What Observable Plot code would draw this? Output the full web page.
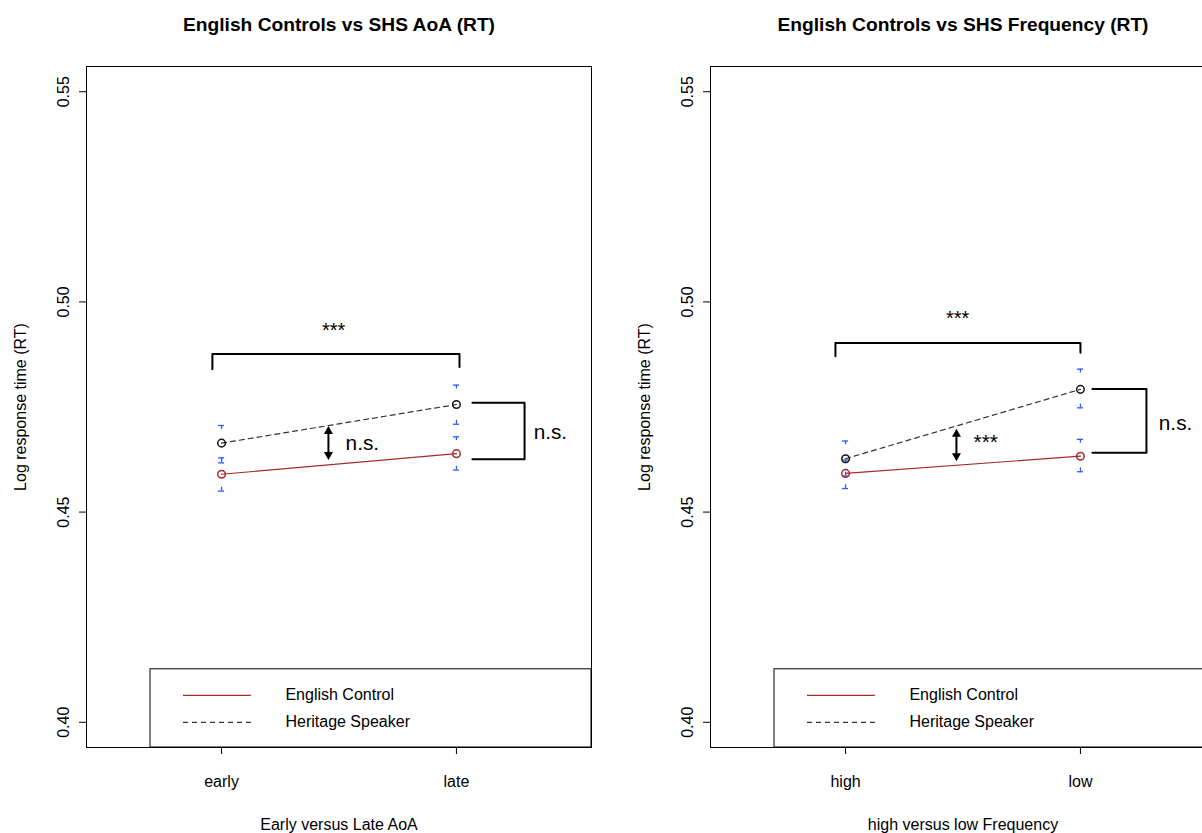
<!DOCTYPE html>
<html><head><meta charset="utf-8">
<script src="https://cdn.jsdelivr.net/npm/d3@7"></script>
<script src="https://cdn.jsdelivr.net/npm/@observablehq/plot@0.6"></script>
<style>
html,body{margin:0;padding:0;background:#fff;}
#wrap{width:1202px;height:833px;overflow:hidden;display:flex;}
#wrap > svg{flex:0 0 auto;max-width:none;}
</style></head><body><div id="wrap"></div>
<script>
// ---------- data ----------
const yTicks = [0.40, 0.45, 0.50, 0.55];
const seriesNames = ["English Control", "Heritage Speaker"];

// Panel 1: AoA
const aoaLevels = ["early", "late"];
const aoaEnglish = [0.4590, 0.4639];
const aoaEnglishLo = [0.4550, 0.4600];
const aoaEnglishHi = [0.4629, 0.4679];
const aoaHeritage = [0.4664, 0.4756];
const aoaHeritageLo = [0.4617, 0.4709];
const aoaHeritageHi = [0.4706, 0.4802];

// Panel 2: Frequency
const freqLevels = ["high", "low"];
const freqEnglish = [0.4592, 0.4633];
const freqEnglishLo = [0.4556, 0.4596];
const freqEnglishHi = [0.4624, 0.4673];
const freqHeritage = [0.4627, 0.4792];
const freqHeritageLo = [0.4586, 0.4748];
const freqHeritageHi = [0.4669, 0.4840];

// Significance annotations (data units)
const aoaTopBracket = {x1: 0.961, x2: 2.013, top: 0.4876, legL: 0.4840, legR: 0.4845, label: "***", lx: 1.477, ly: 0.4931};
const aoaSideBracket = {x1: 2.068, x2: 2.290, yA: 0.4760, yB: 0.4626, label: "n.s.", lx: 2.400, ly: 0.4690};
const aoaMidArrow = {x: 1.455, yA: 0.4705, yB: 0.4624, label: "n.s.", lx: 1.528, ly: 0.4664};

const freqTopBracket = {x1: 0.957, x2: 2.000, top: 0.4902, legL: 0.4871, legR: 0.4879, label: "***", lx: 1.477, ly: 0.4960};
const freqSideBracket = {x1: 2.051, x2: 2.281, yA: 0.4793, yB: 0.4641, label: "n.s.", lx: 2.405, ly: 0.4710};
const freqMidArrow = {x: 1.472, yA: 0.4698, yB: 0.4621, label: "***", lx: 1.545, ly: 0.4667};

// Legend box placement (data units)
const legendBox = {x1: 0.6975, x2: 2.575, y1: 0.394, y2: 0.4126, lineX1: 0.838, lineX2: 1.127, textX: 1.272, rows: [0.4064, 0.4000]};

// ---------- drawing ----------
const RED = "#a52a2a", DASH = "#333333", BLUE = "#2a5cff";
const FONT = "'Liberation Sans', Arial, Helvetica, sans-serif";

const upHead = {draw(ctx) { ctx.moveTo(0, 0); ctx.lineTo(-4.5, 8); ctx.lineTo(4.5, 8); ctx.closePath(); }};
const downHead = {draw(ctx) { ctx.moveTo(0, 0); ctx.lineTo(-4.5, -8); ctx.lineTo(4.5, -8); ctx.closePath(); }};

function panel(p) {
  const rows = p.levels.map((lvl, i) => ({x: i + 1, eng: p.english[i], her: p.heritage[i]}));
  const caps = [];
  p.levels.forEach((lvl, i) => {
    caps.push({x: i + 1, y: p.englishHi[i], dir: 1}, {x: i + 1, y: p.englishLo[i], dir: -1});
    caps.push({x: i + 1, y: p.heritageHi[i], dir: 1}, {x: i + 1, y: p.heritageLo[i], dir: -1});
  });
  const tb = p.top, sb = p.side, ma = p.mid, lg = legendBox;
  const topPts = [{x: tb.x1, y: tb.legL}, {x: tb.x1, y: tb.top}, {x: tb.x2, y: tb.top}, {x: tb.x2, y: tb.legR}];
  const sidePts = [{x: sb.x1, y: sb.yA}, {x: sb.x2, y: sb.yA}, {x: sb.x2, y: sb.yB}, {x: sb.x1, y: sb.yB}];
  const legendRows = seriesNames.map((name, i) => ({name, y: lg.rows[i]}));
  return Plot.plot({
    width: 624, height: 833,
    marginTop: 66, marginBottom: 86, marginLeft: 86, marginRight: 33,
    style: {fontFamily: FONT, fontSize: "16px", background: "white", color: "black", overflow: "visible"},
    x: {domain: [0.425, 2.575]},
    y: {domain: [0.394, 0.556]},
    marks: [
      // legend box
      Plot.rect([lg], {x1: "x1", x2: "x2", y1: "y1", y2: "y2", fill: "white", stroke: "black", strokeWidth: 1}),
      Plot.ruleY([legendRows[0]], {y: "y", x1: lg.lineX1, x2: lg.lineX2, stroke: RED, strokeWidth: 1.2}),
      Plot.ruleY([legendRows[1]], {y: "y", x1: lg.lineX1, x2: lg.lineX2, stroke: DASH, strokeWidth: 1.2, strokeDasharray: "5,4"}),
      Plot.text(legendRows, {x: lg.textX, y: "y", text: "name", textAnchor: "start", fontSize: 16}),
      Plot.frame({stroke: "black", strokeWidth: 1}),
      // series lines
      Plot.line(rows, {x: "x", y: "eng", stroke: RED, strokeWidth: 1.2}),
      Plot.line(rows, {x: "x", y: "her", stroke: DASH, strokeWidth: 1.2, strokeDasharray: "5,4"}),
      // error bar caps
      Plot.ruleY(caps, {y: "y", x1: d => d.x - 0.013, x2: d => d.x + 0.013, stroke: BLUE, strokeWidth: 1.3}),
      Plot.ruleX(caps, {x: "x", y1: "y", y2: d => d.y - d.dir * 0.0009, stroke: BLUE, strokeWidth: 1.3}),
      // points
      Plot.dot(rows, {x: "x", y: "eng", r: 3.8, stroke: RED, strokeWidth: 1.5}),
      Plot.dot(rows, {x: "x", y: "her", r: 3.8, stroke: "#111", strokeWidth: 1.5}),
      // brackets
      Plot.line(topPts, {x: "x", y: "y", stroke: "black", strokeWidth: 2}),
      Plot.line(sidePts, {x: "x", y: "y", stroke: "black", strokeWidth: 2}),
      Plot.text([tb], {x: "lx", y: "ly", text: "label", fontSize: 20}),
      Plot.text([sb], {x: "lx", y: "ly", text: "label", fontSize: 20.8}),
      // middle double arrow
      Plot.ruleX([ma], {x: "x", y1: "yA", y2: "yB", stroke: "black", strokeWidth: 2, insetTop: 3, insetBottom: 3}),
      Plot.dot([ma], {x: "x", y: "yA", symbol: upHead, fill: "black", stroke: null}),
      Plot.dot([ma], {x: "x", y: "yB", symbol: downHead, fill: "black", stroke: null}),
      Plot.text([ma], {x: "lx", y: "ly", text: "label", textAnchor: "start", fontSize: 20.8}),
      // axes
      Plot.axisY({ticks: yTicks, tickFormat: d3.format(".2f"), tickSize: 7, tickRotate: -90, tickPadding: 11, label: null}),
      Plot.axisX({ticks: [1, 2], tickFormat: i => p.levels[i - 1], tickSize: 7, tickPadding: 21, label: null}),
      // titles
      Plot.text([p.title], {text: d => d, frameAnchor: "top", lineAnchor: "middle", fontSize: 19.2, fontWeight: "bold", dy: -42}),
      Plot.text([p.xTitle], {text: d => d, frameAnchor: "bottom", dy: 82, fontSize: 16}),
      Plot.text(["Log response time (RT)"], {text: d => d, frameAnchor: "left", textAnchor: "middle", dx: -66, rotate: -90, fontSize: 16})
    ]
  });
}

const wrap = document.getElementById("wrap");
wrap.append(panel({
  title: "English Controls vs SHS AoA (RT)", xTitle: "Early versus Late AoA",
  levels: aoaLevels, english: aoaEnglish, englishLo: aoaEnglishLo, englishHi: aoaEnglishHi,
  heritage: aoaHeritage, heritageLo: aoaHeritageLo, heritageHi: aoaHeritageHi,
  top: aoaTopBracket, side: aoaSideBracket, mid: aoaMidArrow
}));
wrap.append(panel({
  title: "English Controls vs SHS Frequency (RT)", xTitle: "high versus low Frequency",
  levels: freqLevels, english: freqEnglish, englishLo: freqEnglishLo, englishHi: freqEnglishHi,
  heritage: freqHeritage, heritageLo: freqHeritageLo, heritageHi: freqHeritageHi,
  top: freqTopBracket, side: freqSideBracket, mid: freqMidArrow
}));
</script></body></html>
